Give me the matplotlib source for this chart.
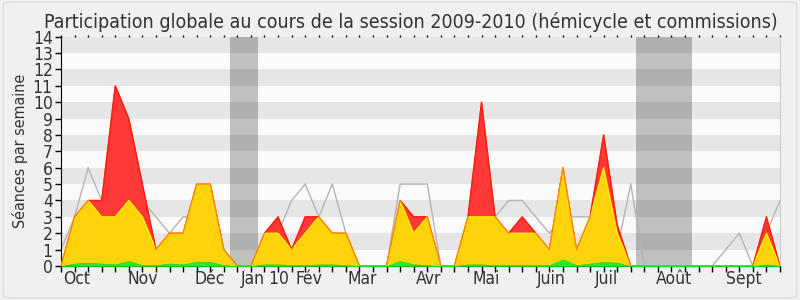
import matplotlib
matplotlib.use("Agg")
import matplotlib.pyplot as plt
from matplotlib.patches import FancyBboxPatch

# weekly values, session 2009-2010 (54 weeks)
total = [0, 3, 4, 4, 11, 9, 5, 1, 2, 2, 5, 5, 1, 0, 0, 2, 3, 1, 3, 3,
         2, 2, 0, 0, 0, 4, 3, 3, 0, 0, 3, 10, 3, 2, 3, 2, 1, 6, 1, 3,
         8, 2.5, 0, 0, 0, 0, 0, 0, 0, 0, 0, 0, 3, 0]
yellow = [0, 3, 4, 3, 3, 4, 3, 1, 2, 2, 5, 5, 1, 0, 0, 2, 2, 1, 2, 3,
          2, 2, 0, 0, 0, 4, 2, 3, 0, 0, 3, 3, 3, 2, 2, 2, 1, 6, 1, 3,
          6, 2, 0, 0, 0, 0, 0, 0, 0, 0, 0, 0, 2, 0]
green = [0, 0.15, 0.2, 0.15, 0.1, 0.3, 0.05, 0.05, 0.15, 0.1, 0.25, 0.25, 0.05, 0, 0,
         0.1, 0.1, 0.05, 0.05, 0.1, 0.1, 0.05, 0, 0, 0, 0.3, 0.1, 0.05, 0, 0,
         0.1, 0.1, 0.05, 0.05, 0.05, 0.05, 0.05, 0.4, 0.05, 0.15, 0.25, 0.2, 0, 0,
         0, 0, 0, 0, 0, 0, 0, 0, 0.1, 0]
median = [1, 3, 6, 4, 5, 3, 4, 3, 2, 3, 3, 5, 1, 0, 0, 1, 2, 4, 5, 3,
          5, 2, 0, 0, 0, 5, 5, 5, 0, 0, 3, 5, 3, 4, 4, 3, 2, 3, 3, 3,
          3, 1, 5, 0, 0, 0, 0, 0, 0, 1, 2, 0, 2, 4]

holidays = [(12.45, 14.5), (42.42, 46.48)]
month_pos = [1.13, 6.03, 10.98, 15.03, 18.3, 22.2, 27.1, 31.35, 36.1, 40.2, 45.2, 50.3]
month_labels = ['Oct', 'Nov', 'Déc', 'Jan 10', 'Fév', 'Mar', 'Avr', 'Mai', 'Juin', 'Juil', 'Août', 'Sept']

weeks = list(range(len(total)))
font = {'family': 'DejaVu Sans', 'stretch': 'condensed'}

fig = plt.figure(figsize=(8, 3), dpi=100, facecolor='#f0f0f0')
fig.patches.append(FancyBboxPatch((0.004, 0.007), 0.992, 0.986, boxstyle='round,pad=0,rounding_size=0.01',
                                  transform=fig.transFigure, facecolor='#f0f0f0',
                                  edgecolor='#dcdcdc', linewidth=1, zorder=-1))
ax = fig.add_axes([0.07625, 0.1133, 0.89875, 0.7644])
ax.set_facecolor('#fafafa')

# horizontal stripes
for y in range(1, 14, 2):
    ax.axhspan(y, y + 1, color='#e6e6e6', lw=0, zorder=0)
for a, b in holidays:
    ax.axvspan(a, b, color='black', alpha=0.23, lw=0, zorder=1)

ax.plot(weeks, median, color='#b4b4b4', lw=1, zorder=2)
ax.fill_between(weeks, 0, total, facecolor='#ff3838', edgecolor='none', zorder=3)
ax.plot(weeks, total, color='#ff1010', lw=1, zorder=3)
ax.fill_between(weeks, 0, yellow, facecolor='#ffd30c', edgecolor='none', zorder=4)
ax.plot(weeks, yellow, color='#ffee00', lw=1, zorder=4)
ax.plot(weeks, total, color='#ff3000', lw=0.8, alpha=0.6, zorder=4)
ax.fill_between(weeks, 0, green, facecolor='#22ee22', edgecolor='#11dd11', lw=0.5, zorder=5)

ax.set_xlim(0, 53)
ax.set_ylim(0, 14)
ax.set_yticks(range(15))
ax.set_xticks(weeks)
ax.set_xticklabels([])
ax.set_xticks(month_pos, minor=True)
ax.set_xticklabels(month_labels, minor=True, fontsize=12.5, color='#333333', **font)
ax.tick_params(axis='x', which='major', length=4, width=1, direction='out', top=True, color='black')
ax.tick_params(axis='x', which='minor', length=0, pad=3)
ax.tick_params(axis='y', length=4, width=1, direction='out', pad=2, labelsize=12.5, labelcolor='#333333')
for t in ax.xaxis.get_major_ticks():
    t.tick2line.set_markersize(1.5)
for lab in ax.get_yticklabels():
    lab.set_fontstretch('condensed')
ax.set_ylabel('Séances par semaine', fontsize=11.5, color='#333333', labelpad=3, **font)

ax.spines['top'].set_visible(False)
ax.spines['right'].set_color('#cccccc')
ax.spines['left'].set_color('black')
ax.spines['bottom'].set_color('black')

fig.text(0.514, 0.925, 'Participation globale au cours de la session 2009-2010 (hémicycle et commissions)',
         ha='center', va='center', fontsize=14, color='#333333', **font)

fig.savefig('out.png', dpi=100, facecolor=fig.get_facecolor())
